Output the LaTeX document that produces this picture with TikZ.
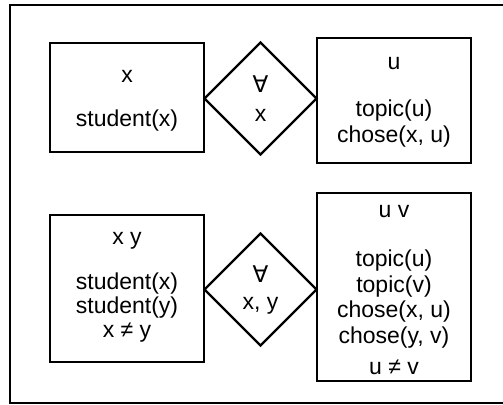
\documentclass[tikz,border=0pt]{standalone}
\usepackage{fontspec}
\setmainfont{Liberation Sans}
\newfontfamily\symfont{DejaVu Sans}
\usetikzlibrary{shapes.geometric}

\begin{document}
\begin{tikzpicture}[x=0.5pt,y=0.5pt,
  drsbox/.style={draw=black, line width=1.2pt, minimum width=77pt, inner sep=0pt},
  quant/.style={diamond, draw=black, line width=1.2pt, minimum width=56.5pt, minimum height=56.5pt, inner sep=0pt},
  txt/.style={font=\fontsize{11.5}{13}\selectfont, anchor=base, inner sep=0pt}]
\useasboundingbox (0,0) rectangle (503,-405);
\draw[line width=1.2pt] (503,-5) -- (10,-5) -- (10,-403) -- (503,-403);
% first row
\node[drsbox, minimum height=54.5pt] (left1) at (127,-97.5) {};
\node[quant] (all1) at (260.5,-98.5) {};
\node[drsbox, minimum height=62.5pt] (right1) at (394,-100.5) {};
\node[txt] (left1ref) at (127,-83) {x};
\node[txt] (left1cond) at (127,-127) {student(x)};
\node[txt] (all1sym) at (260.5,-93) {\symfont ∀};
\node[txt] (all1var) at (260.5,-122) {x};
\node[txt] (right1ref) at (394,-70) {u};
\node[txt] (right1topic) at (394,-117) {topic(u)};
\node[txt] (right1chose) at (394,-143) {chose(x, u)};
% second row
\node[drsbox, minimum height=73.5pt] (left2) at (127,-288.5) {};
\node[quant] (all2) at (260.5,-289.5) {};
\node[drsbox, minimum height=94pt] (right2) at (394,-287) {};
\node[txt] (left2ref) at (127,-245) {x y};
\node[txt] (left2stx) at (127,-290) {student(x)};
\node[txt] (left2sty) at (127,-314) {student(y)};
\node[txt] (left2neq) at (127,-338) {x ≠ y};
\node[txt] (all2sym) at (260.5,-283) {\symfont ∀};
\node[txt] (all2var) at (260.5,-310) {x, y};
\node[txt] (right2ref) at (394,-218) {u v};
\node[txt] (right2tpu) at (394,-267) {topic(u)};
\node[txt] (right2tpv) at (394,-292.5) {topic(v)};
\node[txt] (right2chx) at (394,-318) {chose(x, u)};
\node[txt] (right2chy) at (394,-343.5) {chose(y, v)};
\node[txt] (right2neq) at (394,-375) {u ≠ v};
\end{tikzpicture}
\end{document}
